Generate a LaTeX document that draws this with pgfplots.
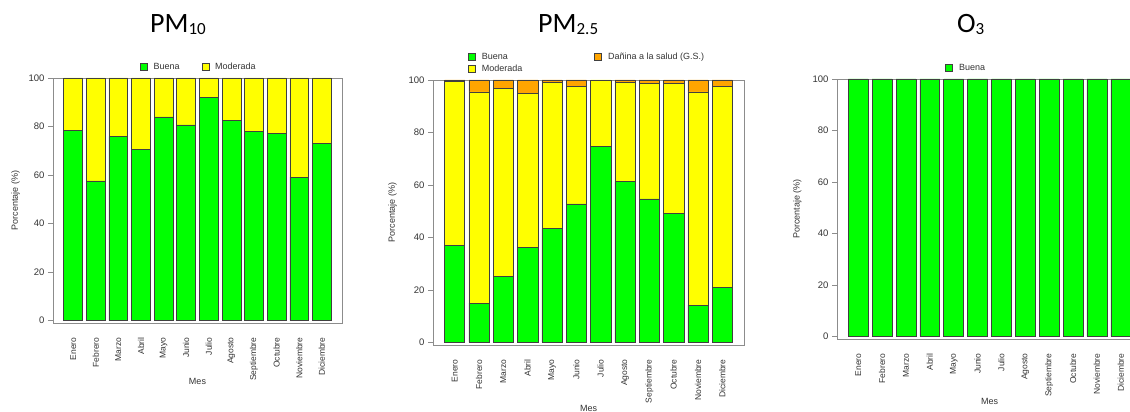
\documentclass[border=0pt]{standalone}
\usepackage{pgfplots}
\usepackage{pgfplotstable}
\pgfplotsset{compat=1.18}
\usepackage{fontspec}
\setmainfont{Liberation Sans}
\newfontfamily\titlefont{Carlito}

\definecolor{rgreen}{HTML}{00FF00}
\definecolor{ryellow}{HTML}{FFFF00}
\definecolor{rorange}{HTML}{FFA500}
\definecolor{rbox}{HTML}{8C8C8C}
\definecolor{rtext}{HTML}{333333}

\pgfplotstableread{
x buena moderada
0 78.3 21.7
1 57.6 42.4
2 75.9 24.1
3 70.4 29.6
4 84.0 16.0
5 80.7 19.3
6 91.9 8.1
7 82.4 17.6
8 78.0 22.0
9 77.3 22.7
10 59.1 40.9
11 73.0 27.0
}\pmdiez

\pgfplotstableread{
x buena moderada danina
0 37.0 62.5 0.5
1 15.0 80.5 4.5
2 25.2 71.5 3.3
3 36.1 58.9 5.0
4 43.3 55.9 0.8
5 52.8 44.9 2.3
6 74.6 25.4 0.0
7 61.3 37.9 0.8
8 54.7 44.1 1.2
9 49.2 49.6 1.2
10 14.2 81.3 4.5
11 20.9 76.8 2.3
}\pmdos

\pgfplotstableread{
x buena
0 100
1 100
2 100
3 100
4 100
5 100
6 100
7 100
8 100
9 100
10 100
11 100
}\ozono

\pgfplotsset{
  rfill/.style={fill=#1, draw=black!75, line width=0.6pt,
    legend image code/.code={\draw[fill=#1,draw=black!75,line width=0.6pt] (0pt,-3.5pt) rectangle (7pt,3.5pt);}},
  rbar/.style={
    scale only axis,
    ybar stacked,
    bar width=0.833,
    ymin=-1, ymax=100,
    xmin=-0.89, xmax=11.89,
    xtick={0,...,11},
    xticklabels={Enero,Febrero,Marzo,Abril,Mayo,Junio,Julio,Agosto,Septiembre,Octubre,Noviembre,Diciembre},
    ytick={0,20,40,60,80,100},
    xtick style={draw=none},
    ytick style={draw=rbox, line width=0.6pt},
    tick align=outside,
    ytick pos=left,
    major tick length=5pt,
    axis line style={draw=rbox, line width=0.7pt},
    /pgf/number format/assume math mode=true,
    xticklabel style={rotate=90, anchor=east, font=\fontsize{8.5}{10}\selectfont, text=rtext},
    yticklabel style={font=\fontsize{9.5}{11}\selectfont, text=rtext},
    xticklabel shift=6pt,
    ylabel={Porcentaje (\%)},
    xlabel={Mes},
    every axis y label/.style={at={(axis description cs:-0.13,0.5)}, anchor=center, rotate=90, font=\fontsize{9}{10}\selectfont, text=rtext},
    every axis x label/.style={at={(axis description cs:0.5,-0.24)}, anchor=center, font=\fontsize{9}{10}\selectfont, text=rtext},
    legend cell align=left,
    legend style={draw=none, fill=none, inner sep=0pt, anchor=west,
      font=\fontsize{9}{10}\selectfont, text=rtext,
      nodes={inner sep=2pt},
      /tikz/every odd column/.append style={column sep=4pt}},
  }
}

\begin{document}
\begin{tikzpicture}
% PM10
\begin{axis}[rbar, at={(53pt,89pt)}, anchor=south west, width=289pt, height=245pt,
  legend columns=2,
  legend style={at={(axis description cs:0.30,1.045)},
    /tikz/every even column/.append style={column sep=20pt}}]
\addplot[rfill=rgreen] table[x=x,y=buena]{\pmdiez};
\addplot[rfill=ryellow] table[x=x,y=moderada]{\pmdiez};
\legend{Buena,Moderada}
\end{axis}
% PM2.5
\begin{axis}[rbar, at={(433pt,67pt)}, anchor=south west, width=311pt, height=265pt,
  legend columns=2, legend transposed=true,
  legend style={at={(axis description cs:0.113,1.064)},
    /tikz/every even column/.append style={column sep=70pt}}]
\addplot[rfill=rgreen] table[x=x,y=buena]{\pmdos};
\addplot[rfill=ryellow] table[x=x,y=moderada]{\pmdos};
\addplot[rfill=rorange] table[x=x,y=danina]{\pmdos};
\legend{Buena,Moderada,Dañina a la salud (G.S.)}
\end{axis}
% O3
\begin{axis}[rbar, at={(837pt,73pt)}, anchor=south west, width=305pt, height=260pt,
  legend style={at={(axis description cs:0.355,1.042)}}]
\addplot[rfill=rgreen] table[x=x,y=buena]{\ozono};
\legend{Buena}
\end{axis}
% titles
\node[anchor=base west, inner sep=0pt] at (150pt,379pt) {\titlefont\fontsize{28}{30}\selectfont PM\raisebox{-2pt}{\fontsize{17}{18}\selectfont 10}};
\node[anchor=base west, inner sep=0pt] at (538pt,379pt) {\titlefont\fontsize{28}{30}\selectfont PM\raisebox{-2pt}{\fontsize{17}{18}\selectfont 2.5}};
\node[anchor=base west, inner sep=0pt] at (957pt,379pt) {\titlefont\fontsize{28}{30}\selectfont O\raisebox{-2pt}{\fontsize{17}{18}\selectfont 3}};
\pgfresetboundingbox
\useasboundingbox (0pt,0pt) rectangle (1130pt,412pt);
\end{tikzpicture}
\end{document}
